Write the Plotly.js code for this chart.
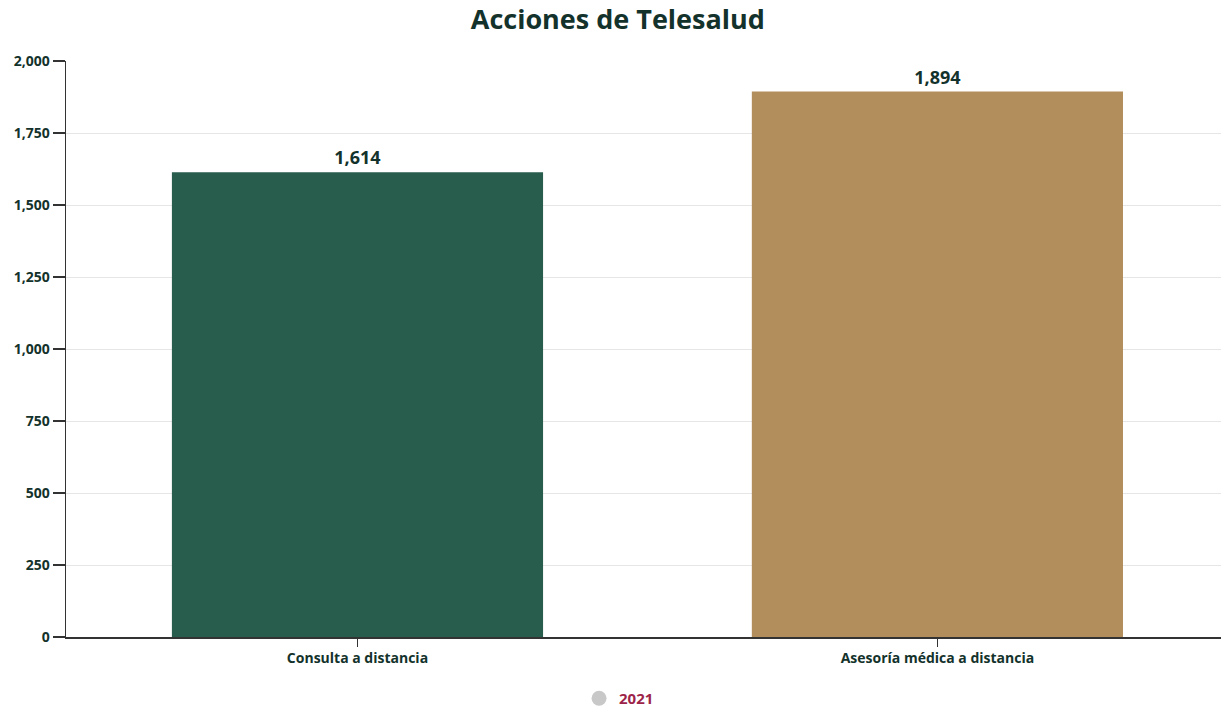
<!DOCTYPE html>
<html>
<head>
<meta charset="utf-8">
<script src="https://cdn.plot.ly/plotly-3.0.1.min.js"></script>
<style>html,body{margin:0;padding:0;background:#fff;}#chart{width:1221px;height:715px;}</style>
</head>
<body>
<div id="chart"></div>
<script>
const categories = ["Consulta a distancia", "Asesoría médica a distancia"];
const values = [1614, 1894];
const barColors = ["#285c4d", "#b38e5d"];
const seriesName = "2021";
const yTicks = [0, 250, 500, 750, 1000, 1250, 1500, 1750, 2000];

const FONT = "Open Sans, Lato, sans-serif";
const DARK = "#13322b";

const traces = [
  {
    type: "bar",
    x: categories,
    y: values,
    marker: {color: barColors},
    texttemplate: "%{y:,}",
    textposition: "outside",
    textfont: {family: FONT, size: 18, color: DARK, weight: "bold"},
    cliponaxis: false,
    showlegend: false,
    hoverinfo: "x+y"
  },
  {
    type: "scatter",
    mode: "markers",
    x: [categories[0]],
    y: [null],
    name: seriesName,
    marker: {color: "#c8c8c8", size: 15, symbol: "circle"},
    showlegend: true
  }
];

const layout = {
  width: 1221,
  height: 715,
  margin: {l: 66, r: 0, t: 61, b: 78},
  paper_bgcolor: "#ffffff",
  plot_bgcolor: "#ffffff",
  bargap: 0.36,
  title: {
    text: "<b>Acciones de Telesalud</b>",
    font: {family: FONT, size: 27, color: DARK},
    x: 0.506, xref: "container", xanchor: "center",
    y: 0.972, yref: "container", yanchor: "middle"
  },
  xaxis: {
    type: "category",
    range: [-0.5026, 1.489],
    showline: true, linecolor: "#333333", linewidth: 1.5,
    ticks: "outside", ticklen: 8, tickcolor: "#333333", tickwidth: 1.5,
    tickfont: {family: FONT, size: 14, color: DARK, weight: "bold"},
    showgrid: false, zeroline: false, fixedrange: true
  },
  yaxis: {
    range: [0, 2000],
    tickvals: yTicks,
    tickformat: ",",
    showline: true, linecolor: "#333333", linewidth: 1.5,
    ticks: "outside", ticklen: 12, tickcolor: "#333333", tickwidth: 1.5,
    tickfont: {family: FONT, size: 14, color: DARK, weight: "bold"},
    showgrid: true, gridcolor: "#e6e6e6", gridwidth: 1,
    zeroline: false, fixedrange: true
  },
  showlegend: true,
  legend: {
    orientation: "h",
    x: 0.507, xref: "container", xanchor: "center",
    y: -0.008, yref: "container", yanchor: "bottom",
    font: {family: FONT, size: 15, color: "#9d2449", weight: "bold"},
    itemwidth: 30
  }
};

Plotly.newPlot("chart", traces, layout, {displayModeBar: false, staticPlot: true});
</script>
</body>
</html>
